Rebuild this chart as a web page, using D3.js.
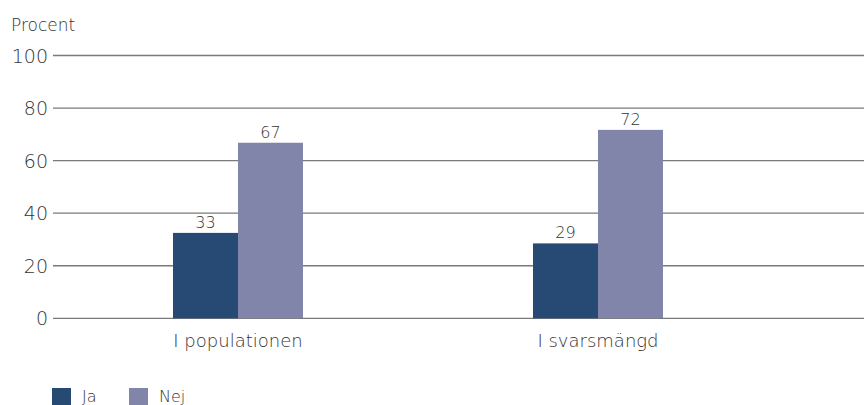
<!DOCTYPE html>
<html><head><meta charset="utf-8">
<script src="https://cdn.jsdelivr.net/npm/d3@7"></script>
<style>
body{margin:0;background:#fff;}
svg{display:block;}
text{font-family:"DejaVu Sans",sans-serif;fill:#333;font-weight:200;}
</style></head>
<body>
<svg id="c" width="864" height="405"></svg>
<script>
const categories = ["I populationen", "I svarsmängd"];
const seriesNames = ["Ja", "Nej"];
const jaValues = [32.5, 28.5];
const nejValues = [66.8, 71.7];
const yTicks = [0, 20, 40, 60, 80, 100];
const colors = ["#264a74", "#8285aa"];

const svg = d3.select("#c");
const x0 = d3.scaleBand().domain(categories).range([58, 778]);
const x1 = d3.scaleBand().domain(seriesNames).range([0, 130]);
const y = d3.scaleLinear().domain([0, 100]).range([318.3, 55.5]);

svg.append("g").selectAll("line").data(yTicks).join("line")
  .attr("x1", 53).attr("x2", 864)
  .attr("y1", d => y(d)).attr("y2", d => y(d))
  .attr("stroke", "#7a7a7a").attr("stroke-width", 1.3);

svg.append("g").selectAll("text").data(yTicks).join("text")
  .attr("x", 48).attr("y", d => y(d) + 7)
  .attr("text-anchor", "end").style("font-size", "19px")
  .text(d => d);

svg.append("text").attr("x", 11).attr("y", 31).style("font-size", "17px").text("Procent");

const data = categories.map((c, i) => ({cat: c, vals: [jaValues[i], nejValues[i]]}));

const groups = svg.append("g").selectAll("g").data(data).join("g")
  .attr("transform", d => `translate(${x0(d.cat) + x0.bandwidth()/2 - 65},0)`);

groups.selectAll("rect").data(d => d.vals.map((v, j) => ({v, s: seriesNames[j], j}))).join("rect")
  .attr("x", d => x1(d.s)).attr("width", x1.bandwidth())
  .attr("y", d => y(d.v)).attr("height", d => y(0) - y(d.v))
  .attr("fill", d => colors[d.j]);

groups.selectAll("text.v").data(d => d.vals.map((v, j) => ({v, s: seriesNames[j]}))).join("text")
  .attr("class", "v")
  .attr("x", d => x1(d.s) + x1.bandwidth()/2).attr("y", d => y(d.v) - 5)
  .attr("text-anchor", "middle").style("font-size", "16px")
  .text(d => Math.round(d.v));

svg.append("g").selectAll("text").data(categories).join("text")
  .attr("x", d => x0(d) + x0.bandwidth()/2).attr("y", 347)
  .attr("text-anchor", "middle").style("font-size", "18px")
  .text(d => d);

const lg = svg.append("g").selectAll("g").data(seriesNames).join("g")
  .attr("transform", (d, i) => `translate(${52 + i * 77},388)`);
lg.append("rect").attr("width", 19).attr("height", 18).attr("fill", (d, i) => colors[i]);
lg.append("text").attr("x", 30).attr("y", 13.5).style("font-size", "16px").text(d => d);
</script>
</body></html>
